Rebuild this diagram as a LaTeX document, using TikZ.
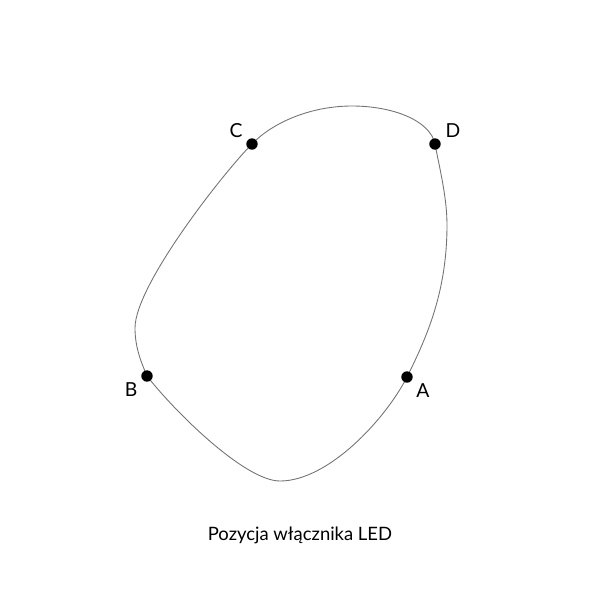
\documentclass[tikz,border=0pt]{standalone}
\usepackage{fontspec}
\setmainfont{Lato}
\usetikzlibrary{positioning}
\tikzset{
  punkt/.style={circle, fill=black, inner sep=0pt, minimum size=6.5pt},
  etykieta/.style={font=\fontsize{11}{13}\selectfont},
}
\begin{document}
\begin{tikzpicture}[x=0.02cm, y=-0.02cm]
			%%%%% START %%%%%
			\useasboundingbox (0, 0) rectangle (600, 600);
			
			\coordinate (C) at (252, 144);
			\coordinate (D) at (435, 144);
			\coordinate (A) at (407, 377);
			\coordinate (B) at (147, 376);
			
			\coordinate (gora) at (352, 106);
			\coordinate (prawo) at (447, 225);
			\coordinate (dol) at (280, 481);
			\coordinate (lewo) at (135, 328);
			
			\draw[line width=0.5pt, color=black!55]
				(C) .. controls (272, 123) and (310, 106) .. (gora)
				.. controls (392, 106) and (430, 120) .. (D)
				.. controls (440, 170) and (447, 198) .. (prawo)
				.. controls (447, 290) and (428, 335) .. (A)
				.. controls (385, 420) and (328, 481) .. (dol)
				.. controls (245, 481) and (175, 412) .. (B)
				.. controls (141, 362) and (135, 347) .. (lewo)
				.. controls (135, 285) and (224, 172) .. (C) -- cycle;
			
			\node[punkt] (pC) at (C) {};
			\node[punkt] (pD) at (D) {};
			\node[punkt] (pA) at (A) {};
			\node[punkt] (pB) at (B) {};
			
			\node[etykieta] (lC) at (236, 131) {C};
			\node[etykieta] (lD) at (453, 131) {D};
			\node[etykieta] (lB) at (131, 390) {B};
			\node[etykieta] (lA) at (423, 391) {A};
			
			\node[font=\fontsize{10.5}{12}\selectfont] (opis) at (300, 535) {Pozycja włącznika LED};
			%%%%% END %%%%%
\end{tikzpicture}
\end{document}
